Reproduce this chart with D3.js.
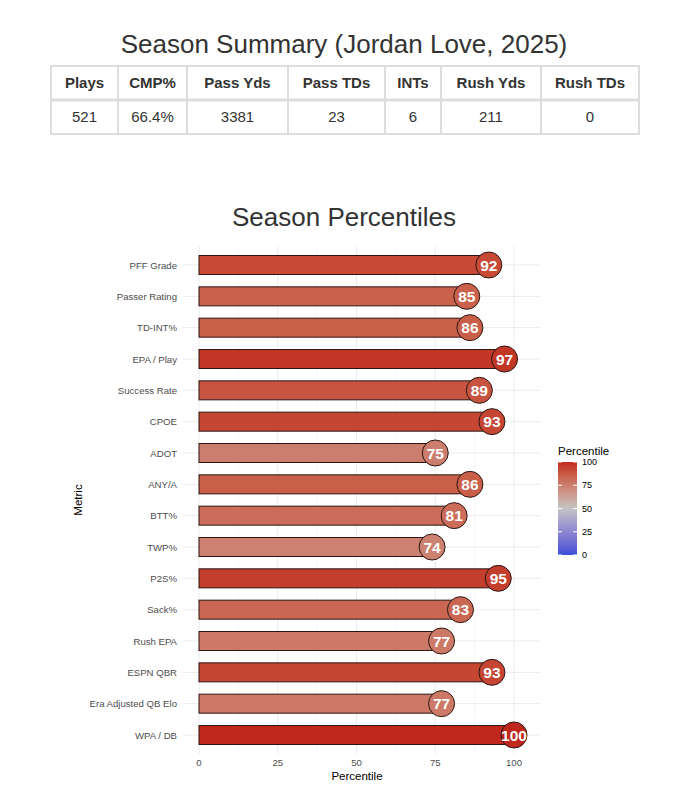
<!DOCTYPE html>
<html>
<head>
<meta charset="utf-8">
<script src="https://cdn.jsdelivr.net/npm/d3@7"></script>
<style>
  body { margin: 0; background: #fff; }
  svg { display: block; font-family: "Liberation Sans", Arial, sans-serif; }
</style>
</head>
<body>
<div id="chart"></div>
<script>
// summary table
const summaryHeaders = ['Plays', 'CMP%', 'Pass Yds', 'Pass TDs', 'INTs', 'Rush Yds', 'Rush TDs'];
const summaryValues = ['521', '66.4%', '3381', '23', '6', '211', '0'];

// percentile bars
const metrics = ['PFF Grade', 'Passer Rating', 'TD-INT%', 'EPA / Play', 'Success Rate', 'CPOE', 'ADOT',
    'ANY/A', 'BTT%', 'TWP%', 'P2S%', 'Sack%', 'Rush EPA', 'ESPN QBR', 'Era Adjusted QB Elo', 'WPA / DB'];
const percentiles = [92, 85, 86, 97, 89, 93, 75, 86, 81, 74, 95, 83, 77, 93, 77, 100];
const xTicks = [0, 25, 50, 75, 100];
const legendTicks = [0, 25, 50, 75, 100];

const width = 673, height = 802;
const svg = d3.select('#chart').append('svg')
    .attr('width', width)
    .attr('height', height);

// ---- table ----
svg.append('text')
    .attr('x', 344).attr('y', 53)
    .attr('text-anchor', 'middle')
    .attr('font-size', 26)
    .attr('fill', '#333')
    .text('Season Summary (Jordan Love, 2025)');

const colEdges = [51, 118, 187, 288, 385, 441, 541, 639];
const rowTop = 66, rowMid = 100, rowBot = 134;
const table = svg.append('g');

table.append('rect')
    .attr('x', colEdges[0]).attr('y', rowTop)
    .attr('width', colEdges[7] - colEdges[0]).attr('height', rowBot - rowTop)
    .attr('fill', 'none').attr('stroke', '#dddddd').attr('stroke-width', 2);

table.selectAll('line.col')
    .data(colEdges.slice(1, -1))
    .join('line')
    .attr('x1', d => d).attr('x2', d => d)
    .attr('y1', rowTop).attr('y2', rowBot)
    .attr('stroke', '#dddddd').attr('stroke-width', 2);

table.append('line')
    .attr('x1', colEdges[0]).attr('x2', colEdges[7])
    .attr('y1', rowMid).attr('y2', rowMid)
    .attr('stroke', '#dddddd').attr('stroke-width', 3);

table.selectAll('text.head')
    .data(summaryHeaders)
    .join('text')
    .attr('x', (d, i) => (colEdges[i] + colEdges[i + 1]) / 2)
    .attr('y', (rowTop + rowMid) / 2 + 5)
    .attr('text-anchor', 'middle')
    .attr('font-size', 15)
    .attr('font-weight', 'bold')
    .attr('fill', '#333')
    .text(d => d);

table.selectAll('text.val')
    .data(summaryValues)
    .join('text')
    .attr('x', (d, i) => (colEdges[i] + colEdges[i + 1]) / 2)
    .attr('y', (rowMid + rowBot) / 2 + 5)
    .attr('text-anchor', 'middle')
    .attr('font-size', 15)
    .attr('fill', '#333')
    .text(d => d);

// ---- percentile chart ----
svg.append('text')
    .attr('x', 344).attr('y', 226)
    .attr('text-anchor', 'middle')
    .attr('font-size', 26)
    .attr('fill', '#333')
    .text('Season Percentiles');

const panel = { left: 183, right: 540, top: 246, bottom: 754 };
const x = d3.scaleLinear().domain([0, 100]).range([199, 514]);
const y = d3.scalePoint().domain(metrics).range([265, 735]);
const barH = 19;

// ggplot style gradient2, mixed in Lab
const color = d3.scaleLinear()
    .domain([0, 50, 100])
    .range(['#3a4fd8', '#c4c4c6', '#c0281d'])
    .interpolate(d3.interpolateLab);

const grid = svg.append('g');
grid.selectAll('line.minor')
    .data([12.5, 37.5, 62.5, 87.5])
    .join('line')
    .attr('x1', d => x(d)).attr('x2', d => x(d))
    .attr('y1', panel.top).attr('y2', panel.bottom)
    .attr('stroke', '#f4f4f4').attr('stroke-width', 0.6);
grid.selectAll('line.vmajor')
    .data(xTicks)
    .join('line')
    .attr('x1', d => x(d)).attr('x2', d => x(d))
    .attr('y1', panel.top).attr('y2', panel.bottom)
    .attr('stroke', '#ebebeb').attr('stroke-width', 1);
grid.selectAll('line.hmajor')
    .data(metrics)
    .join('line')
    .attr('x1', panel.left).attr('x2', panel.right)
    .attr('y1', d => y(d)).attr('y2', d => y(d))
    .attr('stroke', '#ebebeb').attr('stroke-width', 1);

const rows = svg.append('g').selectAll('g')
    .data(metrics.map((m, i) => ({ metric: m, value: percentiles[i] })))
    .join('g');

rows.append('rect')
    .attr('x', x(0))
    .attr('y', d => y(d.metric) - barH / 2)
    .attr('width', d => x(d.value) - x(0))
    .attr('height', barH)
    .attr('fill', d => color(d.value))
    .attr('stroke', '#2b1612')
    .attr('stroke-width', 1);

rows.append('circle')
    .attr('cx', d => x(d.value))
    .attr('cy', d => y(d.metric))
    .attr('r', 13)
    .attr('fill', d => color(d.value))
    .attr('stroke', '#2b1612')
    .attr('stroke-width', 1);

rows.append('text')
    .attr('x', d => x(d.value))
    .attr('y', d => y(d.metric) + 5.5)
    .attr('text-anchor', 'middle')
    .attr('font-size', 15.5)
    .attr('font-weight', 'bold')
    .attr('fill', '#fff')
    .text(d => d.value);

// axes
svg.append('g').selectAll('text')
    .data(metrics)
    .join('text')
    .attr('x', 177)
    .attr('y', d => y(d) + 3.5)
    .attr('text-anchor', 'end')
    .attr('font-size', 9.6)
    .attr('fill', '#4d4d4d')
    .text(d => d);

svg.append('g').selectAll('text')
    .data(xTicks)
    .join('text')
    .attr('x', d => x(d))
    .attr('y', 766)
    .attr('text-anchor', 'middle')
    .attr('font-size', 9.6)
    .attr('fill', '#4d4d4d')
    .text(d => d);

svg.append('text')
    .attr('x', 357).attr('y', 780)
    .attr('text-anchor', 'middle')
    .attr('font-size', 11.5)
    .attr('fill', '#000')
    .text('Percentile');

svg.append('text')
    .attr('transform', 'translate(82,500) rotate(-90)')
    .attr('text-anchor', 'middle')
    .attr('font-size', 11.5)
    .attr('fill', '#000')
    .text('Metric');

// legend
const lg = { x: 558, w: 19, top: 462, bottom: 555 };
const ly = d3.scaleLinear().domain([0, 100]).range([lg.bottom, lg.top]);
const defs = svg.append('defs');
const grad = defs.append('linearGradient')
    .attr('id', 'pgrad')
    .attr('x1', 0).attr('y1', 1).attr('x2', 0).attr('y2', 0);
grad.selectAll('stop')
    .data(d3.range(0, 101, 5))
    .join('stop')
    .attr('offset', d => d / 100)
    .attr('stop-color', d => color(d));

svg.append('text')
    .attr('x', lg.x).attr('y', 455)
    .attr('font-size', 11.5)
    .attr('fill', '#000')
    .text('Percentile');

svg.append('rect')
    .attr('x', lg.x).attr('y', lg.top)
    .attr('width', lg.w).attr('height', lg.bottom - lg.top)
    .attr('fill', 'url(#pgrad)');

const lticks = svg.append('g');
lticks.selectAll('line.l')
    .data(legendTicks)
    .join('line')
    .attr('x1', lg.x).attr('x2', lg.x + 4)
    .attr('y1', d => ly(d)).attr('y2', d => ly(d))
    .attr('stroke', '#fff').attr('stroke-width', 1);
lticks.selectAll('line.r')
    .data(legendTicks)
    .join('line')
    .attr('x1', lg.x + lg.w - 4).attr('x2', lg.x + lg.w)
    .attr('y1', d => ly(d)).attr('y2', d => ly(d))
    .attr('stroke', '#fff').attr('stroke-width', 1);
lticks.selectAll('text')
    .data(legendTicks)
    .join('text')
    .attr('x', lg.x + lg.w + 5)
    .attr('y', d => ly(d) + 3)
    .attr('font-size', 9)
    .attr('fill', '#000')
    .text(d => d);
</script>
</body>
</html>
